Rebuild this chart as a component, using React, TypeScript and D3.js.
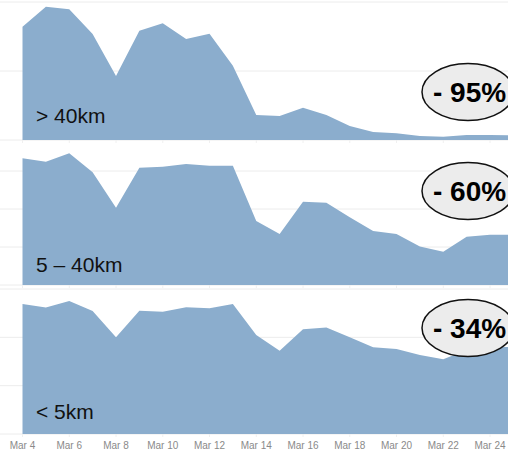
import { useEffect, useRef } from 'react';
import * as d3 from 'd3';

// days of March shown on the x axis
const days: number[] = [4, 5, 6, 7, 8, 9, 10, 11, 12, 13, 14, 15, 16, 17, 18, 19, 20, 21, 22, 23, 24, 25];
const tickDays: number[] = [4, 6, 8, 10, 12, 14, 16, 18, 20, 22, 24];

const far: number[] = [82.1, 96.6, 94.7, 76.8, 46.4, 79.2, 84.6, 73.2, 77.0, 53.8, 18.1, 17.4, 23.4, 18.1, 10.1, 5.8, 4.9, 2.9, 2.4, 3.6, 3.6, 3.5];
const mid: number[] = [66.7, 64.9, 69.3, 59.3, 40.7, 61.7, 62.3, 63.7, 62.8, 62.8, 33.7, 26.8, 43.8, 43.3, 35.6, 28.4, 26.8, 20.2, 17.5, 25.4, 26.5, 26.5];
const near: number[] = [53.8, 52.3, 55.0, 50.9, 40.0, 51.0, 50.6, 52.4, 52.0, 53.8, 41.0, 34.5, 43.3, 44.1, 40.0, 35.9, 35.2, 32.7, 30.9, 34.8, 35.9, 36.0];

const labels: string[] = ['> 40km', '5 – 40km', '< 5km'];
const changes: string[] = ['- 95%', '- 60%', '- 34%'];

const App = () => {
    const svgRef = useRef<SVGSVGElement>(null);

    useEffect(() => {
        if (!svgRef.current) return;
        const svg = d3.select(svgRef.current);
        svg.selectAll('*').remove();

        const width = 508;
        const height = 450;
        svg.attr('width', width).attr('height', height);

        const x = d3.scaleLinear().domain([4, 24]).range([22.5, 490]);

        const panels = [
            { values: far, top: 2, bottom: 140, max: 100, ticks: [0, 50, 100], labelY: 123, ovalY: 92 },
            { values: mid, top: 142.5, bottom: 285, max: 75, ticks: [0, 20, 40, 60], labelY: 271.5, ovalY: 191 },
            { values: near, top: 289, bottom: 434, max: 60, ticks: [0, 20, 40, 60], labelY: 419, ovalY: 328 },
        ];

        panels.forEach((p, i) => {
            const y = d3.scaleLinear().domain([0, p.max]).range([p.bottom, p.top]);
            const g = svg.append('g');

            // gridlines
            g.selectAll('line.grid')
                .data(p.ticks)
                .enter()
                .append('line')
                .attr('x1', 0)
                .attr('x2', width)
                .attr('y1', d => y(d))
                .attr('y2', d => y(d))
                .attr('stroke', '#ececec')
                .attr('stroke-width', 1);

            // area
            const area = d3.area<number>()
                .x((_, j) => x(days[j]))
                .y0(y(0))
                .y1(d => y(d));

            g.append('path')
                .datum(p.values)
                .attr('d', area)
                .attr('fill', '#8badcd');

            // small ticks at the base
            g.selectAll('line.tick')
                .data(tickDays)
                .enter()
                .append('line')
                .attr('x1', d => x(d))
                .attr('x2', d => x(d))
                .attr('y1', y(0))
                .attr('y2', y(0) + 3)
                .attr('stroke', '#f0f0f0');

            g.append('text')
                .attr('x', 36)
                .attr('y', p.labelY)
                .attr('font-family', 'Liberation Sans, Arial, sans-serif')
                .attr('font-size', 21)
                .attr('fill', '#111')
                .text(labels[i]);

            g.append('ellipse')
                .attr('cx', 468)
                .attr('cy', p.ovalY)
                .attr('rx', 46)
                .attr('ry', 28.5)
                .attr('fill', '#ececec')
                .attr('stroke', '#111')
                .attr('stroke-width', 1.5);

            g.append('text')
                .attr('x', 433)
                .attr('y', p.ovalY + 10)
                .attr('font-family', 'Liberation Sans, Arial, sans-serif')
                .attr('font-size', 28)
                .attr('font-weight', 'bold')
                .attr('fill', '#000')
                .text(changes[i]);
        });

        // x axis labels
        svg.append('g')
            .selectAll('text')
            .data(tickDays)
            .enter()
            .append('text')
            .attr('x', d => x(d))
            .attr('y', 449)
            .attr('text-anchor', 'middle')
            .attr('font-family', 'Liberation Sans, Arial, sans-serif')
            .attr('font-size', 10)
            .attr('fill', '#8a8a8a')
            .text(d => `Mar ${d}`);
    }, []);

    return (
        <div style={{ position: 'absolute', left: 0, top: 0, width: 508, height: 450, background: '#fff' }}>
            <svg ref={svgRef} style={{ display: 'block' }}></svg>
        </div>
    );
};

export default App;
